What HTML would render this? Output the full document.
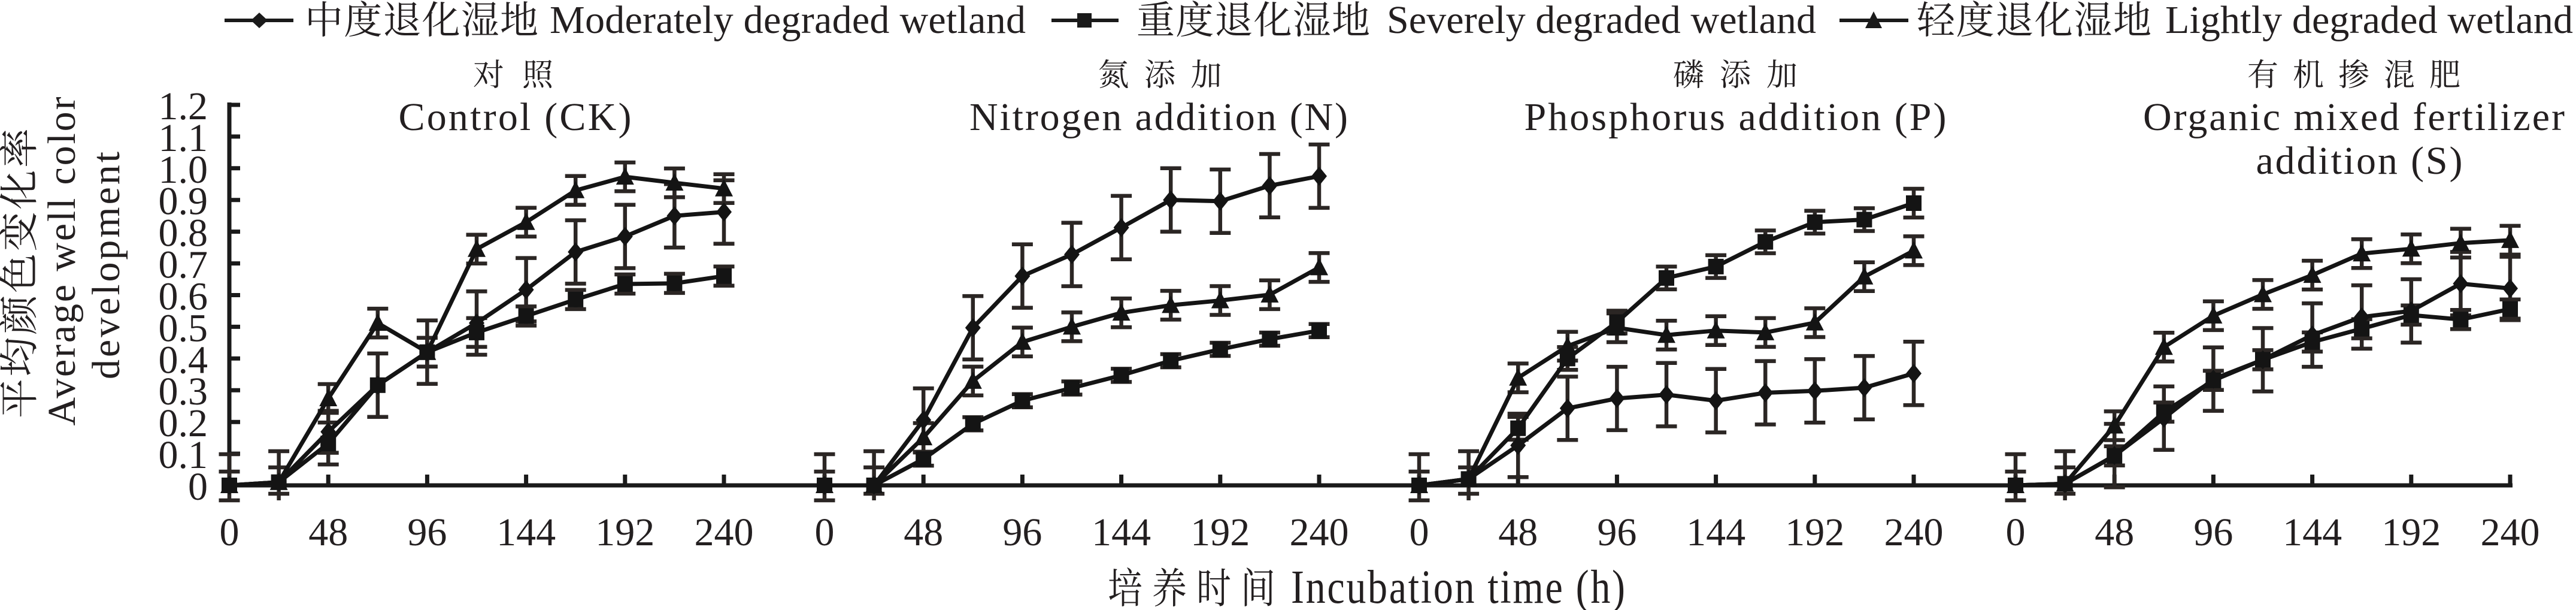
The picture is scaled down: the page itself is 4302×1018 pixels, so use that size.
<!DOCTYPE html>
<html><head><meta charset="utf-8"><style>
html,body{margin:0;padding:0;background:#fff;}
body{width:4302px;height:1018px;overflow:hidden;}
svg{display:block;}
svg text{font-family:"Liberation Serif","Noto Serif CJK SC","DejaVu Serif",serif;fill:#231f20;}
</style></head><body>
<svg width="4302" height="1018" viewBox="0 0 4302 1018" xmlns="http://www.w3.org/2000/svg" font-family="'Liberation Serif','Noto Serif CJK SC','DejaVu Serif',serif">
<defs>
<path id="e100" d="M0,-52.9V52.9M-17.5,-52.9h35M-17.5,52.9h35"/>
<path id="e66" d="M0,-35V35M-17.5,-35h35M-17.5,35h35"/>
<path id="e45" d="M0,-24V24M-17.5,-24h35M-17.5,24h35"/>
<path id="e35" d="M0,-19V19M-17.5,-19h35M-17.5,19h35"/>
<path id="e30" d="M0,-16V16M-17.5,-16h35M-17.5,16h35"/>
<path id="e20" d="M0,-11V11M-17.5,-11h35M-17.5,11h35"/>
<path id="z0" d="M0,-52V25M-17.5,-52h35M-17.5,-23h35M-17.5,25h35"/>
<path id="z24" d="M0,-57V25M-17.5,-57h35M-17.5,-30h35M-17.5,14h35"/>
<path id="mD" d="M0,-16L13,0L0,16L-13,0Z"/>
<rect id="mS" x="-13" y="-13" width="26" height="26"/>
<path id="mT" d="M0,-16L15,13L-15,13Z"/>
</defs>

<!-- Legend -->
<g stroke="#1a1a1a" stroke-width="6" fill="none">
<path d="M375,34H490M1756,34H1868M3072,34H3187"/>
</g>
<g fill="#1a1a1a">
<path d="M433,21L447,34L433,47L419,34Z"/>
<rect x="1799" y="22" width="24" height="24"/>
<path d="M3129,19L3143,47L3115,47Z"/>
</g>
<g font-size="64" font-family="'Noto Serif CJK SC','Noto Sans CJK SC',serif" fill="#231f20">
<text x="509" y="56" textLength="390" lengthAdjust="spacing">中度退化湿地</text>
<text x="1898" y="56" textLength="390" lengthAdjust="spacing">重度退化湿地</text>
<text x="3201" y="56" textLength="392" lengthAdjust="spacing">轻度退化湿地</text>
</g>
<g font-size="66" font-family="'Liberation Serif','DejaVu Serif',serif" fill="#231f20">
<text x="918" y="55" textLength="795" lengthAdjust="spacing">Moderately degraded wetland</text>
<text x="2316" y="55" textLength="717" lengthAdjust="spacing">Severely degraded wetland</text>
<text x="3616" y="55" textLength="681" lengthAdjust="spacing">Lightly degraded wetland</text>
</g>

<!-- Panel titles -->
<g font-size="52" text-anchor="middle" font-family="'Noto Serif CJK SC','Noto Sans CJK SC',serif" fill="#231f20">
<text x="857" y="143" textLength="134" lengthAdjust="spacing">对照</text>
<text x="1937" y="143" textLength="207" lengthAdjust="spacing">氮添加</text>
<text x="2898" y="143" textLength="208" lengthAdjust="spacing">磷添加</text>
<text x="3931" y="143" textLength="356" lengthAdjust="spacing">有机掺混肥</text>
</g>
<g font-size="66" text-anchor="middle" font-family="'Liberation Serif','DejaVu Serif',serif" fill="#231f20">
<text x="860" y="217" textLength="389" lengthAdjust="spacing">Control (CK)</text>
<text x="1935" y="217" textLength="632" lengthAdjust="spacing">Nitrogen addition (N)</text>
<text x="2898" y="217" textLength="705" lengthAdjust="spacing">Phosphorus addition (P)</text>
<text x="3931" y="217" textLength="704" lengthAdjust="spacing">Organic mixed fertilizer</text>
<text x="3940" y="290" textLength="345" lengthAdjust="spacing">addition (S)</text>
</g>

<!-- Y axis title -->
<g text-anchor="middle" fill="#231f20">
<text transform="translate(55,456) rotate(-90)" font-size="66" font-family="'Noto Serif CJK SC','Noto Sans CJK SC',serif" textLength="484" lengthAdjust="spacing">平均颜色变化率</text>
<text transform="translate(125,436) rotate(-90)" font-size="66" font-family="'Liberation Serif','DejaVu Serif',serif" textLength="549" lengthAdjust="spacing">Average well color</text>
<text transform="translate(199,443) rotate(-90)" font-size="66" font-family="'Liberation Serif','DejaVu Serif',serif" textLength="380" lengthAdjust="spacing">development</text>
</g>

<!-- X axis title -->
<g transform="translate(0,1006) scale(1,1.2) translate(0,-1006)" fill="#231f20">
<text x="1850" y="1006" font-size="58" font-family="'Noto Serif CJK SC','Noto Sans CJK SC',serif" textLength="280" lengthAdjust="spacing">培养时间</text>
<text x="2156" y="1006" font-size="66" font-family="'Liberation Serif','DejaVu Serif',serif" textLength="558" lengthAdjust="spacing">Incubation time (h)</text>
</g>

<!-- Axes -->
<g stroke="#1a1a1a" stroke-width="7" fill="none">
<path d="M383,171V813"/>
<path d="M379,810H4196"/>
<path d="M383,757.1h18M383,704.2h18M383,651.2h18M383,598.3h18M383,545.4h18M383,492.5h18M383,439.6h18M383,386.6h18M383,333.7h18M383,280.8h18M383,227.9h18M383,175h18"/>
<path d="M548.2,810V792M713.4,810V792M878.6,810V792M1043.8,810V792M1209,810V792
M1377,810V792M1542.2,810V792M1707.4,810V792M1872.6,810V792M2037.8,810V792M2203,810V792
M2370,810V792M2535.2,810V792M2700.4,810V792M2865.6,810V792M3030.8,810V792M3196,810V792
M3366,810V792M3531.2,810V792M3696.4,810V792M3861.6,810V792M4026.8,810V792M4192,810V792"/>
</g>

<!-- Y tick labels -->
<g font-size="66" text-anchor="end" font-family="'Liberation Serif','DejaVu Serif',serif" fill="#231f20">
<text x="347" y="834">0</text>
<text x="347" y="781.1">0.1</text>
<text x="347" y="728.2">0.2</text>
<text x="347" y="675.2">0.3</text>
<text x="347" y="622.3">0.4</text>
<text x="347" y="569.4">0.5</text>
<text x="347" y="516.5">0.6</text>
<text x="347" y="463.6">0.7</text>
<text x="347" y="410.6">0.8</text>
<text x="347" y="357.7">0.9</text>
<text x="347" y="304.8">1.0</text>
<text x="347" y="251.9">1.1</text>
<text x="347" y="199">1.2</text>
</g>

<!-- X tick labels -->
<g font-size="66" text-anchor="middle" font-family="'Liberation Serif','DejaVu Serif',serif" fill="#231f20">
<text x="383" y="910">0</text><text x="548.2" y="910">48</text><text x="713.4" y="910">96</text><text x="878.6" y="910">144</text><text x="1043.8" y="910">192</text><text x="1209" y="910">240</text>
<text x="1377" y="910">0</text><text x="1542.2" y="910">48</text><text x="1707.4" y="910">96</text><text x="1872.6" y="910">144</text><text x="2037.8" y="910">192</text><text x="2203" y="910">240</text>
<text x="2370" y="910">0</text><text x="2535.2" y="910">48</text><text x="2700.4" y="910">96</text><text x="2865.6" y="910">144</text><text x="3030.8" y="910">192</text><text x="3196" y="910">240</text>
<text x="3366" y="910">0</text><text x="3531.2" y="910">48</text><text x="3696.4" y="910">96</text><text x="3861.6" y="910">144</text><text x="4026.8" y="910">192</text><text x="4192" y="910">240</text>
</g>

<!-- Panel 1: CK -->
<g transform="translate(383,810)">
<g stroke="#2b2624" stroke-width="6.5" fill="none">
<use href="#z0" x="0" y="0"/><use href="#z24" x="82.6" y="0"/>
<use href="#e66" x="165.2" y="-89.4"/>
<use href="#e100" x="247.8" y="-167.2"/><use href="#e100" x="330.4" y="-222.3"/><use href="#e100" x="413" y="-270.9"/><use href="#e100" x="495.6" y="-326.5"/><use href="#e100" x="578.2" y="-389.5"/><use href="#e100" x="660.8" y="-415.4"/><use href="#e100" x="743.4" y="-449.8"/><use href="#e100" x="826" y="-456.2"/>
<use href="#e66" x="165.2" y="-69.9"/><use href="#e45" x="413" y="-255.1"/>
<use href="#e30" x="495.6" y="-282.6"/><use href="#e30" x="578.2" y="-310.1"/><use href="#e30" x="660.8" y="-336"/><use href="#e30" x="743.4" y="-337.1"/><use href="#e30" x="826" y="-349.3"/>
<use href="#e45" x="165.2" y="-145"/><use href="#e45" x="247.8" y="-270.9"/><use href="#e45" x="330.4" y="-222.3"/><use href="#e45" x="413" y="-394.3"/><use href="#e45" x="495.6" y="-439.2"/><use href="#e45" x="578.2" y="-492.2"/><use href="#e45" x="660.8" y="-514.9"/><use href="#e45" x="743.4" y="-504.9"/><use href="#e45" x="826" y="-495.3"/>
</g>
<g stroke="#141414" stroke-width="7" fill="none">
<polyline points="0,0 82.6,-5.3 165.2,-89.4 247.8,-167.2 330.4,-222.3 413,-270.9 495.6,-326.5 578.2,-389.5 660.8,-415.4 743.4,-449.8 826,-456.2"/>
<polyline points="0,0 82.6,-5.3 165.2,-69.9 247.8,-167.2 330.4,-222.3 413,-255.1 495.6,-282.6 578.2,-310.1 660.8,-336 743.4,-337.1 826,-349.3"/>
<polyline points="0,0 82.6,-5.3 165.2,-145 247.8,-270.9 330.4,-222.3 413,-394.3 495.6,-439.2 578.2,-492.2 660.8,-514.9 743.4,-504.9 826,-495.3"/>
</g>
<g fill="#141414">
<use href="#mD" x="0" y="0"/><use href="#mD" x="82.6" y="-5.3"/><use href="#mD" x="165.2" y="-89.4"/><use href="#mD" x="247.8" y="-167.2"/><use href="#mD" x="330.4" y="-222.3"/><use href="#mD" x="413" y="-270.9"/><use href="#mD" x="495.6" y="-326.5"/><use href="#mD" x="578.2" y="-389.5"/><use href="#mD" x="660.8" y="-415.4"/><use href="#mD" x="743.4" y="-449.8"/><use href="#mD" x="826" y="-456.2"/>
<use href="#mT" x="0" y="0"/><use href="#mT" x="82.6" y="-5.3"/><use href="#mT" x="165.2" y="-145"/><use href="#mT" x="247.8" y="-270.9"/><use href="#mT" x="330.4" y="-222.3"/><use href="#mT" x="413" y="-394.3"/><use href="#mT" x="495.6" y="-439.2"/><use href="#mT" x="578.2" y="-492.2"/><use href="#mT" x="660.8" y="-514.9"/><use href="#mT" x="743.4" y="-504.9"/><use href="#mT" x="826" y="-495.3"/>
<use href="#mS" x="0" y="0"/><use href="#mS" x="82.6" y="-5.3"/><use href="#mS" x="165.2" y="-69.9"/><use href="#mS" x="247.8" y="-167.2"/><use href="#mS" x="330.4" y="-222.3"/><use href="#mS" x="413" y="-255.1"/><use href="#mS" x="495.6" y="-282.6"/><use href="#mS" x="578.2" y="-310.1"/><use href="#mS" x="660.8" y="-336"/><use href="#mS" x="743.4" y="-337.1"/><use href="#mS" x="826" y="-349.3"/>
</g>
</g>

<!-- Panel 2: N -->
<g transform="translate(1377,810)">
<g stroke="#2b2624" stroke-width="6.5" fill="none">
<use href="#z0" x="0" y="0"/><use href="#z24" x="82.6" y="0"/>
<use href="#e100" x="165.2" y="-109"/><use href="#e100" x="247.8" y="-263"/><use href="#e100" x="330.4" y="-349.3"/><use href="#e100" x="413" y="-385.3"/><use href="#e100" x="495.6" y="-430.2"/><use href="#e100" x="578.2" y="-476.3"/><use href="#e100" x="660.8" y="-474.2"/><use href="#e100" x="743.4" y="-500.1"/><use href="#e100" x="826" y="-516"/>
<use href="#e45" x="165.2" y="-79.9"/><use href="#e45" x="247.8" y="-174.1"/><use href="#e45" x="330.4" y="-239.2"/><use href="#e45" x="413" y="-264.6"/><use href="#e45" x="495.6" y="-287.9"/><use href="#e45" x="578.2" y="-300.6"/><use href="#e45" x="660.8" y="-308.5"/><use href="#e45" x="743.4" y="-318.1"/><use href="#e45" x="826" y="-363.6"/>
<use href="#e20" x="165.2" y="-43.9"/><use href="#e20" x="247.8" y="-102.7"/><use href="#e20" x="330.4" y="-141.3"/><use href="#e20" x="413" y="-162.5"/><use href="#e20" x="495.6" y="-183.6"/><use href="#e20" x="578.2" y="-208"/><use href="#e20" x="660.8" y="-227"/><use href="#e20" x="743.4" y="-244"/><use href="#e20" x="826" y="-258.3"/>
</g>
<g stroke="#141414" stroke-width="7" fill="none">
<polyline points="0,0 82.6,0 165.2,-109 247.8,-263 330.4,-349.3 413,-385.3 495.6,-430.2 578.2,-476.3 660.8,-474.2 743.4,-500.1 826,-516"/>
<polyline points="0,0 82.6,0 165.2,-79.9 247.8,-174.1 330.4,-239.2 413,-264.6 495.6,-287.9 578.2,-300.6 660.8,-308.5 743.4,-318.1 826,-363.6"/>
<polyline points="0,0 82.6,0 165.2,-43.9 247.8,-102.7 330.4,-141.3 413,-162.5 495.6,-183.6 578.2,-208 660.8,-227 743.4,-244 826,-258.3"/>
</g>
<g fill="#141414">
<use href="#mD" x="0" y="0"/><use href="#mD" x="82.6" y="0"/><use href="#mD" x="165.2" y="-109"/><use href="#mD" x="247.8" y="-263"/><use href="#mD" x="330.4" y="-349.3"/><use href="#mD" x="413" y="-385.3"/><use href="#mD" x="495.6" y="-430.2"/><use href="#mD" x="578.2" y="-476.3"/><use href="#mD" x="660.8" y="-474.2"/><use href="#mD" x="743.4" y="-500.1"/><use href="#mD" x="826" y="-516"/>
<use href="#mT" x="0" y="0"/><use href="#mT" x="82.6" y="0"/><use href="#mT" x="165.2" y="-79.9"/><use href="#mT" x="247.8" y="-174.1"/><use href="#mT" x="330.4" y="-239.2"/><use href="#mT" x="413" y="-264.6"/><use href="#mT" x="495.6" y="-287.9"/><use href="#mT" x="578.2" y="-300.6"/><use href="#mT" x="660.8" y="-308.5"/><use href="#mT" x="743.4" y="-318.1"/><use href="#mT" x="826" y="-363.6"/>
<use href="#mS" x="0" y="0"/><use href="#mS" x="82.6" y="0"/><use href="#mS" x="165.2" y="-43.9"/><use href="#mS" x="247.8" y="-102.7"/><use href="#mS" x="330.4" y="-141.3"/><use href="#mS" x="413" y="-162.5"/><use href="#mS" x="495.6" y="-183.6"/><use href="#mS" x="578.2" y="-208"/><use href="#mS" x="660.8" y="-227"/><use href="#mS" x="743.4" y="-244"/><use href="#mS" x="826" y="-258.3"/>
</g>
</g>

<!-- Panel 3: P -->
<g transform="translate(2370,810)">
<g stroke="#2b2624" stroke-width="6.5" fill="none">
<use href="#z0" x="0" y="0"/><use href="#z24" x="82.6" y="0"/>
<use href="#e35" x="165.2" y="-95.3"/><use href="#e35" x="247.8" y="-211.7"/><use href="#e35" x="330.4" y="-272.5"/><use href="#e35" x="413" y="-346.1"/><use href="#e35" x="495.6" y="-365.1"/><use href="#e35" x="578.2" y="-406.4"/><use href="#e35" x="660.8" y="-439.2"/><use href="#e35" x="743.4" y="-443.5"/><use href="#e45" x="826" y="-471"/>
<use href="#e45" x="165.2" y="-179.4"/><use href="#e45" x="247.8" y="-232.3"/><use href="#e45" x="330.4" y="-263"/><use href="#e45" x="413" y="-250.8"/><use href="#e45" x="495.6" y="-258.3"/><use href="#e45" x="578.2" y="-255.1"/><use href="#e45" x="660.8" y="-271.5"/><use href="#e45" x="743.4" y="-348.2"/><use href="#e45" x="826" y="-391.6"/>
<use href="#e100" x="165.2" y="-66.7"/><use href="#e100" x="247.8" y="-128.6"/><use href="#e100" x="330.4" y="-145"/><use href="#e100" x="413" y="-151.4"/><use href="#e100" x="495.6" y="-141.3"/><use href="#e100" x="578.2" y="-154.5"/><use href="#e100" x="660.8" y="-157.7"/><use href="#e100" x="743.4" y="-163"/><use href="#e100" x="826" y="-186.8"/>
</g>
<g stroke="#141414" stroke-width="7" fill="none">
<polyline points="0,0 82.6,-10.6 165.2,-95.3 247.8,-211.7 330.4,-272.5 413,-346.1 495.6,-365.1 578.2,-406.4 660.8,-439.2 743.4,-443.5 826,-471"/>
<polyline points="0,0 82.6,-10.6 165.2,-179.4 247.8,-232.3 330.4,-263 413,-250.8 495.6,-258.3 578.2,-255.1 660.8,-271.5 743.4,-348.2 826,-391.6"/>
<polyline points="0,0 82.6,-10.6 165.2,-66.7 247.8,-128.6 330.4,-145 413,-151.4 495.6,-141.3 578.2,-154.5 660.8,-157.7 743.4,-163 826,-186.8"/>
</g>
<g fill="#141414">
<use href="#mD" x="0" y="0"/><use href="#mD" x="82.6" y="-10.6"/><use href="#mD" x="165.2" y="-66.7"/><use href="#mD" x="247.8" y="-128.6"/><use href="#mD" x="330.4" y="-145"/><use href="#mD" x="413" y="-151.4"/><use href="#mD" x="495.6" y="-141.3"/><use href="#mD" x="578.2" y="-154.5"/><use href="#mD" x="660.8" y="-157.7"/><use href="#mD" x="743.4" y="-163"/><use href="#mD" x="826" y="-186.8"/>
<use href="#mT" x="0" y="0"/><use href="#mT" x="82.6" y="-10.6"/><use href="#mT" x="165.2" y="-179.4"/><use href="#mT" x="247.8" y="-232.3"/><use href="#mT" x="330.4" y="-263"/><use href="#mT" x="413" y="-250.8"/><use href="#mT" x="495.6" y="-258.3"/><use href="#mT" x="578.2" y="-255.1"/><use href="#mT" x="660.8" y="-271.5"/><use href="#mT" x="743.4" y="-348.2"/><use href="#mT" x="826" y="-391.6"/>
<use href="#mS" x="0" y="0"/><use href="#mS" x="82.6" y="-10.6"/><use href="#mS" x="165.2" y="-95.3"/><use href="#mS" x="247.8" y="-211.7"/><use href="#mS" x="330.4" y="-272.5"/><use href="#mS" x="413" y="-346.1"/><use href="#mS" x="495.6" y="-365.1"/><use href="#mS" x="578.2" y="-406.4"/><use href="#mS" x="660.8" y="-439.2"/><use href="#mS" x="743.4" y="-443.5"/><use href="#mS" x="826" y="-471"/>
</g>
</g>

<!-- Panel 4: S -->
<g transform="translate(3366,810)">
<g stroke="#2b2624" stroke-width="6.5" fill="none">
<use href="#z0" x="0" y="0"/><use href="#z24" x="82.6" y="0"/>
<use href="#e45" x="165.2" y="-99.5"/><use href="#e45" x="247.8" y="-230.7"/><use href="#e45" x="330.4" y="-283.1"/><use href="#e45" x="413" y="-318.6"/><use href="#e45" x="495.6" y="-350.9"/><use href="#e45" x="578.2" y="-386.8"/><use href="#e45" x="660.8" y="-394.8"/><use href="#e45" x="743.4" y="-404.3"/><use href="#e45" x="826" y="-409.1"/>
<use href="#e100" x="165.2" y="-49.7"/><use href="#e100" x="247.8" y="-112.2"/><use href="#e100" x="330.4" y="-177.3"/><use href="#e100" x="413" y="-209.6"/><use href="#e100" x="495.6" y="-250.8"/><use href="#e100" x="578.2" y="-281"/><use href="#e100" x="660.8" y="-291.1"/><use href="#e100" x="743.4" y="-336.6"/><use href="#e100" x="826" y="-328.6"/>
<use href="#e30" x="165.2" y="-49.2"/><use href="#e30" x="247.8" y="-122.2"/><use href="#e30" x="330.4" y="-175.2"/><use href="#e30" x="413" y="-209.6"/><use href="#e30" x="495.6" y="-239.2"/><use href="#e30" x="578.2" y="-261.4"/><use href="#e30" x="660.8" y="-284.2"/><use href="#e30" x="743.4" y="-276.8"/><use href="#e30" x="826" y="-294.2"/>
</g>
<g stroke="#141414" stroke-width="7" fill="none">
<polyline points="0,0 82.6,-2.6 165.2,-99.5 247.8,-230.7 330.4,-283.1 413,-318.6 495.6,-350.9 578.2,-386.8 660.8,-394.8 743.4,-404.3 826,-409.1"/>
<polyline points="0,0 82.6,-2.6 165.2,-49.7 247.8,-112.2 330.4,-177.3 413,-209.6 495.6,-250.8 578.2,-281 660.8,-291.1 743.4,-336.6 826,-328.6"/>
<polyline points="0,0 82.6,-2.6 165.2,-49.2 247.8,-122.2 330.4,-175.2 413,-209.6 495.6,-239.2 578.2,-261.4 660.8,-284.2 743.4,-276.8 826,-294.2"/>
</g>
<g fill="#141414">
<use href="#mD" x="0" y="0"/><use href="#mD" x="82.6" y="-2.6"/><use href="#mD" x="165.2" y="-49.7"/><use href="#mD" x="247.8" y="-112.2"/><use href="#mD" x="330.4" y="-177.3"/><use href="#mD" x="413" y="-209.6"/><use href="#mD" x="495.6" y="-250.8"/><use href="#mD" x="578.2" y="-281"/><use href="#mD" x="660.8" y="-291.1"/><use href="#mD" x="743.4" y="-336.6"/><use href="#mD" x="826" y="-328.6"/>
<use href="#mT" x="0" y="0"/><use href="#mT" x="82.6" y="-2.6"/><use href="#mT" x="165.2" y="-99.5"/><use href="#mT" x="247.8" y="-230.7"/><use href="#mT" x="330.4" y="-283.1"/><use href="#mT" x="413" y="-318.6"/><use href="#mT" x="495.6" y="-350.9"/><use href="#mT" x="578.2" y="-386.8"/><use href="#mT" x="660.8" y="-394.8"/><use href="#mT" x="743.4" y="-404.3"/><use href="#mT" x="826" y="-409.1"/>
<use href="#mS" x="0" y="0"/><use href="#mS" x="82.6" y="-2.6"/><use href="#mS" x="165.2" y="-49.2"/><use href="#mS" x="247.8" y="-122.2"/><use href="#mS" x="330.4" y="-175.2"/><use href="#mS" x="413" y="-209.6"/><use href="#mS" x="495.6" y="-239.2"/><use href="#mS" x="578.2" y="-261.4"/><use href="#mS" x="660.8" y="-284.2"/><use href="#mS" x="743.4" y="-276.8"/><use href="#mS" x="826" y="-294.2"/>
</g>
</g>
</svg>
</body></html>
